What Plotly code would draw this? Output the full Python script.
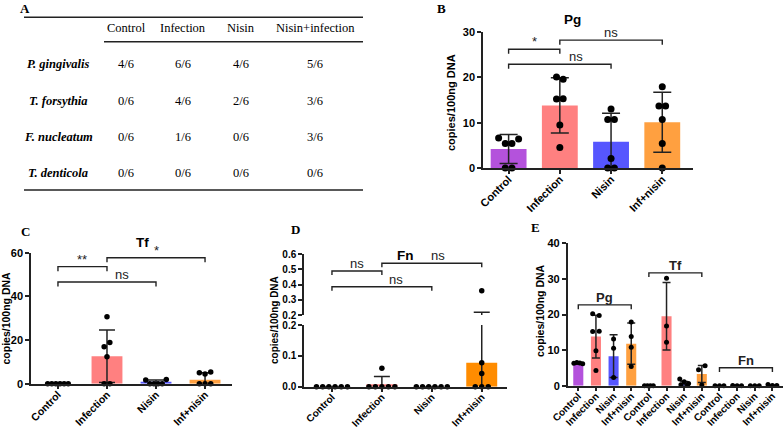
import plotly.graph_objects as go

W, H = 784, 430
INK = "#222222"
SANS = "Liberation Sans"
SERIF = "Liberation Serif"

# ---------------- data ----------------
table_cols = ["Control", "Infection", "Nisin", "Nisin+infection"]
table_rows = ["P. gingivalis", "T. forsythia", "F. nucleatum", "T. denticola"]
table_vals = [
    ["4/6", "6/6", "4/6", "5/6"],
    ["0/6", "4/6", "2/6", "3/6"],
    ["0/6", "1/6", "0/6", "3/6"],
    ["0/6", "0/6", "0/6", "0/6"],
]

groups = ["Control", "Infection", "Nisin", "Inf+nisin"]
bar_colors = ["#B452DC", "#FF8080", "#5656FF", "#FFA040"]
fn_colors = ["#B452DC", "#FF8080", "#5656FF", "#FF8C00"]

# B - Pg
pg_mean = [4.2, 13.8, 5.8, 10.1]
pg_sd = [3.2, 6.1, 6.3, 6.6]
pg_pts = [[6.6, 5.4, 5.4, 6.4, 0, 0],
          [20.1, 19.6, 15.2, 15.3, 9.5, 4.5],
          [13.0, 10.7, 10.7, 2.1, 0, 0],
          [17.9, 13.7, 13.7, 10.7, 5.4, 0]]
pg_sig = [("*", 0, 1, 26.2), ("ns", 0, 2, 22.9), ("ns", 1, 3, 28.2)]

# C - Tf
tf_mean = [0, 12.6, 0.6, 1.8]
tf_sd = [0, 12.0, 1.1, 3.2]
tf_pts = [[0, 0, 0, 0, 0, 0],
          [30.7, 16.9, 18.9, 12.4, 0, 0],
          [1.7, 0, 0, 0, 0, 1.9],
          [5.0, 4.4, 5.4, 0, 0, 0]]
tf_sig = [("**", 0, 1, 53.6), ("*", 1, 3, 57.7), ("ns", 0, 2, 46.6)]

# D - Fn (broken axis)
fn_mean = [0, 0.008, 0, 0.078]
fn_sd = [0, 0.025, 0, 0.14]
fn_pts = [[0, 0, 0, 0, 0, 0],
          [0, 0, 0.06, 0, 0, 0],
          [0, 0, 0, 0, 0, 0],
          [0.36, 0.078, 0.043, 0, 0, 0]]
fn_sig = [("ns", 0, 1, 0.49), ("ns", 1, 3, 0.541), ("ns", 0, 2, 0.386)]

# E - all three
e_labels = groups * 3
e_mean = [6.3, 13.8, 8.3, 11.8, 0, 19.5, 0.5, 3.3, 0, 0.01, 0, 0.08]
e_sd = [0.2, 6.0, 6.0, 5.8, 0, 9.5, 0.7, 2.4, 0, 0.02, 0, 0.14]
e_pts = [[6.3, 6.5, 6.4, 6.2],
         [20.2, 19.7, 15.2, 15.3, 9.8, 4.3],
         [13.1, 10.5, 2.3],
         [17.9, 13.8, 10.8, 5.4],
         [0, 0, 0, 0],
         [30.2, 16.8, 12.2],
         [1.9, 1.1, 0.6, 0.3, 0.2],
         [4.5, 5.6, 0.2],
         [0, 0, 0],
         [0.06, 0, 0],
         [0, 0, 0],
         [0.36, 0.08, 0.04]]
e_sig = [("Pg", 0, 3, 22.7), ("Tf", 4, 7, 31.7), ("Fn", 8, 11, 5.06)]

fig = go.Figure()


def px_x(x):
    return x / W


def px_y(y):
    return 1 - y / H


def swarm(vals, thr, dx, maxw):
    # simple beeswarm: near-equal values spread sideways, kept in list order
    order = sorted(range(len(vals)), key=lambda i: -vals[i])
    clusters = []
    for i in order:
        if clusters and vals[clusters[-1][0]] - vals[i] < thr:
            clusters[-1].append(i)
        else:
            clusters.append([i])
    offs = [0.0] * len(vals)
    for c in clusters:
        c = sorted(c)
        k = len(c)
        if k > 1:
            span = min((k - 1) * dx, maxw)
            for j, i in enumerate(c):
                offs[i] = -span / 2 + span * j / (k - 1)
    return offs


def add_panel(xa, ya, means, sds, pts, colors, bw, capw, msize, thr, dx, maxw,
              keep=lambda v: True):
    xs = list(range(len(means)))
    fig.add_trace(go.Bar(
        x=xs, y=means, width=bw, xaxis=xa, yaxis=ya,
        marker=dict(color=colors, line_width=0),
        error_y=dict(type="data", array=sds, color=INK, thickness=1.5, width=capw),
        showlegend=False, hoverinfo="skip"))
    px, py = [], []
    for i, vals in enumerate(pts):
        for v, o in zip(vals, swarm(vals, thr, dx, maxw)):
            if keep(v):
                px.append(i + o)
                py.append(v)
    fig.add_trace(go.Scatter(
        x=px, y=py, mode="markers", xaxis=xa, yaxis=ya, cliponaxis=False,
        marker=dict(color="black", size=msize, line_width=0),
        showlegend=False, hoverinfo="skip"))


def add_brackets(xa, ya, sig, leg, size, shifts, bold=False):
    for k, (lab, a, b, y) in enumerate(sig):
        fig.add_shape(type="path", xref=xa, yref=ya,
                      path=f"M {a},{y - leg} L {a},{y} L {b},{y} L {b},{y - leg}",
                      line=dict(color=INK, width=1.4))
        fig.add_annotation(x=(a + b) / 2, y=y, xref=xa, yref=ya, text=lab,
                           showarrow=False, yanchor="bottom", xshift=shifts[k], yshift=-2,
                           font=dict(family=SANS, size=size, color=INK,
                                     weight="bold" if bold else "normal"))


def note(x, y, text, size, family=SANS, angle=0, bold=True):
    fig.add_annotation(x=px_x(x), y=px_y(y), xref="paper", yref="paper", text=text,
                       showarrow=False, textangle=angle, xanchor="center", yanchor="middle",
                       font=dict(family=family, size=size, color="black",
                                 weight="bold" if bold else "normal"))


def xaxis(x0, x1, rng, labels, anchor, fs):
    return dict(domain=[px_x(x0), px_x(x1)], range=rng, anchor=anchor,
                tickmode="array", tickvals=list(range(len(labels))), ticktext=labels,
                tickangle=-45, showline=True, linecolor=INK, linewidth=1.5,
                ticks="outside", ticklen=4, tickwidth=1.5, tickcolor=INK,
                showgrid=False, zeroline=False, automargin=False, ticklabelstandoff=-5,
                tickfont=dict(family=SANS, size=fs, color="black", weight="bold"))


def yaxis(top, bottom, rng, dtick, anchor, fs, fmt=None):
    d = dict(domain=[px_y(bottom), px_y(top)], range=rng, anchor=anchor,
             tick0=rng[0], dtick=dtick, showline=True, linecolor=INK, linewidth=1.5,
             ticks="outside", ticklen=4, tickwidth=1.5, tickcolor=INK,
             showgrid=False, zeroline=False, automargin=False,
             tickfont=dict(family=SANS, size=fs, color="black", weight="bold"))
    if fmt:
        d["tickformat"] = fmt
    return d


# ---------- B ----------
add_panel("x", "y", pg_mean, pg_sd, pg_pts, bar_colors, 0.7, 9, 7, 1.35, 0.13, 0.45)
add_brackets("x", "y", pg_sig, 1.0, 13, [0, 16, 0])
# ---------- C ----------
add_panel("x2", "y2", tf_mean, tf_sd, tf_pts, bar_colors, 0.63, 8, 5.5, 2.7, 0.116, 0.42)
add_brackets("x2", "y2", tf_sig, 2.1, 13, [0, 0, 15])
# ---------- D ----------
add_panel("x3", "y3", fn_mean, fn_sd, fn_pts, fn_colors, 0.62, 8, 5.5, 0.009, 0.13, 0.62,
          keep=lambda v: v <= 0.2)
add_panel("x3", "y4", fn_mean, fn_sd, fn_pts, fn_colors, 0.62, 8, 5.5, 0.009, 0.13, 0.62,
          keep=lambda v: v > 0.2)
add_brackets("x3", "y4", fn_sig, 0.027, 13, [0, 6, 14])
# ---------- E ----------
add_panel("x5", "y5", e_mean, e_sd, e_pts, bar_colors * 3, 0.57, 4, 5, 1.4, 0.37, 0.5)
add_brackets("x5", "y5", e_sig, 1.2, 13, [0, 0, 0], bold=True)

# ---------- table A ----------
line = dict(color=INK, width=1.6)
for x0, y0 in [(24, 17.3), (104, 41.7), (24, 190)]:
    fig.add_shape(type="line", xref="paper", yref="paper", x0=px_x(x0), x1=px_x(363),
                  y0=px_y(y0), y1=px_y(y0), line=line)
col_x = [126, 183, 241, 315]
row_y = [64, 101, 137, 173]
for cx, c in zip(col_x, table_cols):
    note(cx, 28, c, 12.5, family=SERIF, bold=False)
for ry, r, vals in zip(row_y, table_rows, table_vals):
    note(58, ry, f"<i>{r}</i>", 12.5, family=SERIF)
    for cx, v in zip(col_x, vals):
        note(cx, ry, v, 12.5, family=SERIF, bold=False)

# panel letters, titles, axis titles
for lab, x, y in [("A", 24.5, 9), ("B", 441, 9), ("C", 25, 231), ("D", 295, 230), ("E", 535, 228)]:
    note(x, y, lab, 13, family=SERIF)
note(572, 20, "Pg", 13.5)
note(142, 242, "Tf", 13.5)
note(405, 255, "Fn", 13.5)
note(451, 103, "copies/100ng DNA", 11, angle=-90)
note(5.5, 318, "copies/100ng DNA", 10.5, angle=-90)
note(274, 320, "copies/100ng DNA", 10, angle=-90)
note(540, 311, "copies/100ng DNA", 10.5, angle=-90)

fig.update_layout(
    template="none",
    width=W, height=H,
    margin=dict(l=0, r=0, t=0, b=0),
    paper_bgcolor="white", plot_bgcolor="rgba(0,0,0,0)",
    showlegend=False, hovermode=False,
    xaxis=xaxis(483, 693, [-0.5, 3.6], groups, "y", 11),
    yaxis=yaxis(32, 168, [0, 30], 10, "x", 11),
    xaxis2=xaxis(31, 232, [-0.55, 3.55], groups, "y2", 10.5),
    yaxis2=yaxis(252.7, 383.7, [0, 60], 20, "x2", 11),
    xaxis3=xaxis(304, 506.7, [-0.56, 3.5], groups, "y3", 10),
    yaxis3=yaxis(325, 386.7, [0, 0.2], 0.1, "x3", 10, ".1f"),
    yaxis4=yaxis(254.3, 315, [0.2, 0.6], 0.1, "x3", 10, ".1f"),
    xaxis5=xaxis(567.7, 783, [-0.6, 11.6], e_labels, "y5", 10),
    yaxis5=yaxis(243.3, 385.7, [0, 40], 10, "x5", 11),
)

# the page's default body margin would shift the figure by 8px
fig.write_html("out.html", config={"displayModeBar": False},
               post_script="document.body.style.margin='0px';")
